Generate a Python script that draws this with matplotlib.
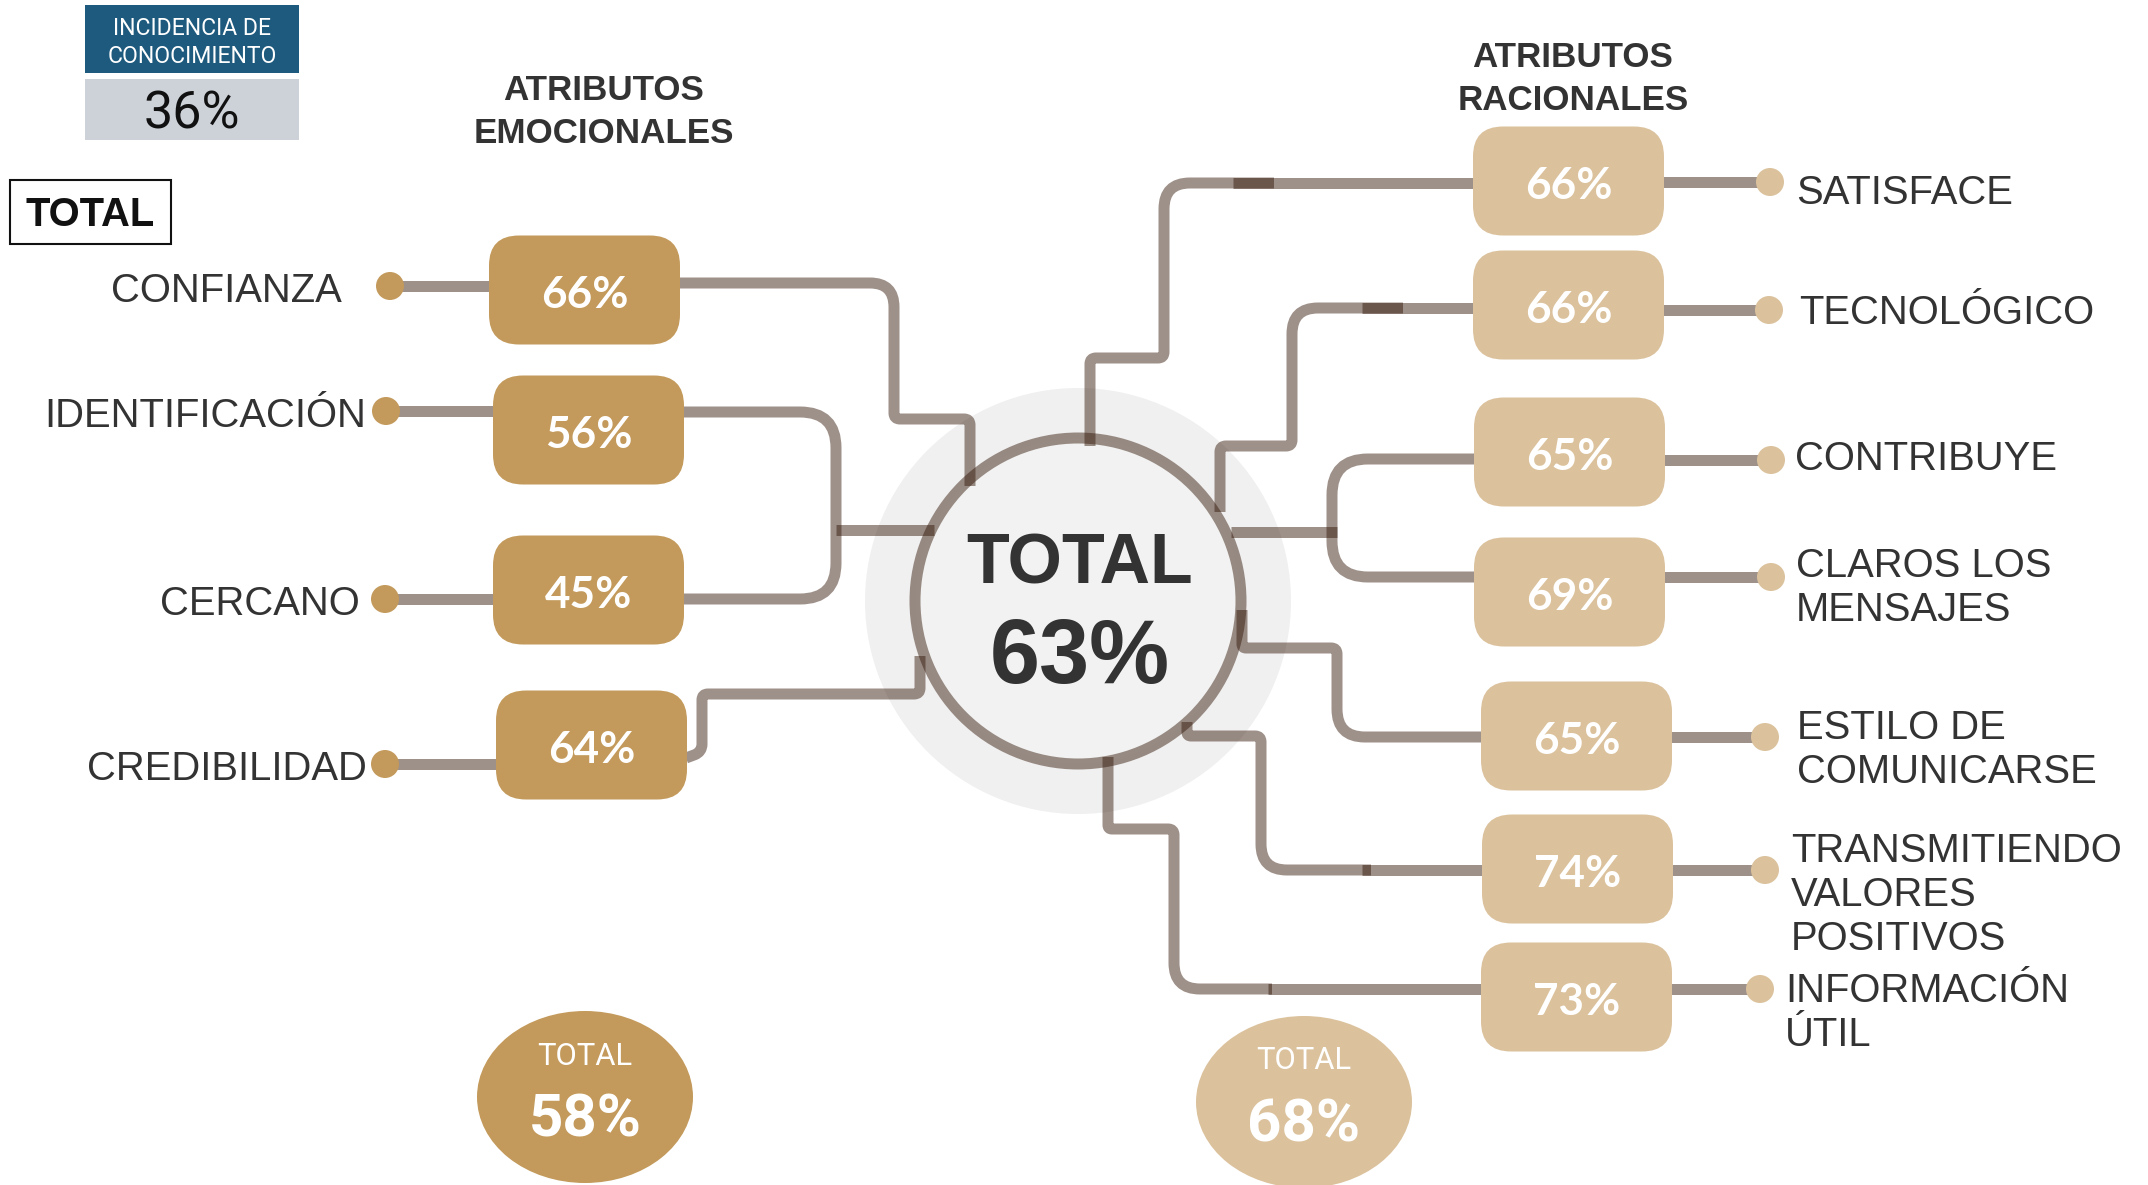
import matplotlib
matplotlib.use("Agg")
import matplotlib.pyplot as plt
from matplotlib.patches import FancyBboxPatch, Circle, Ellipse, Rectangle, PathPatch
from matplotlib.path import Path
import numpy as np

# data
EMO_LABELS = ["CONFIANZA", "IDENTIFICACIÓN", "CERCANO", "CREDIBILIDAD"]
EMO_VALUES = [66, 56, 45, 64]
RAC_LABELS = ["SATISFACE", "TECNOLÓGICO", "CONTRIBUYE", "CLAROS LOS\nMENSAJES",
              "ESTILO DE\nCOMUNICARSE", "TRANSMITIENDO\nVALORES\nPOSITIVOS",
              "INFORMACIÓN\nÚTIL"]
RAC_VALUES = [66, 66, 65, 69, 65, 74, 73]
TOTAL_VALUE = 63
EMO_TOTAL = 58
RAC_TOTAL = 68
INCIDENCIA = 36

# layout (pixel space, y grows downward)
W, H = 2148, 1185
BOX_W, BOX_H, BOX_R = 191, 109, 30
DOT_R = 14
EMO_BOX_X = [489, 493, 493, 496]
EMO_BOX_Y = [290, 430, 590, 745]
EMO_DOT_X = [390, 386, 385, 385]
EMO_DOT_Y = [286, 411, 599, 764]
EMO_LABEL_X = [342, 366, 360, 367]
RAC_BOX_X = [1473, 1473, 1474, 1474, 1481, 1482, 1481]
RAC_BOX_Y = [181, 305, 452, 592, 736, 869, 997]
RAC_DOT_X = [1770, 1769, 1771, 1771, 1765, 1765, 1760]
RAC_DOT_Y = [182, 310, 460, 577, 737, 870, 989]
RAC_LABEL_X = [1796, 1799, 1795, 1796, 1797, 1791, 1785]
RAC_LABEL_Y = [190, 310, 456, 585, 747, 892, 1010]
CENTER = (1078, 601)
RING_R = 163
HALO_R = 213

# connector routes: waypoints + corner radii
ROUTES = [
    ([(680, 283), (894, 283), (894, 419), (970, 419), (970, 486)], [24, 6, 6]),
    ([(684, 412), (836, 412), (836, 599), (684, 599)], [36, 36]),
    ([(836, 530), (934, 530)], []),
    ([(686, 758), (702, 752), (702, 694), (920, 694), (920, 656)], [8, 6, 6]),
    ([(1090, 446), (1090, 358), (1164, 358), (1164, 183), (1274, 183)], [6, 6, 26]),
    ([(1233, 183), (1473, 183)], []),
    ([(1220, 512), (1220, 446), (1292, 446), (1292, 308), (1403, 308)], [6, 6, 26]),
    ([(1362, 308), (1474, 308)], []),
    ([(1474, 459), (1332, 459), (1332, 577), (1474, 577)], [36, 36]),
    ([(1231, 532), (1337, 532)], []),
    ([(1242, 610), (1242, 648), (1337, 648), (1337, 737), (1481, 737)], [4, 6, 28]),
    ([(1187, 722), (1187, 736), (1261, 736), (1261, 870), (1371, 870)], [4, 6, 26]),
    ([(1362, 870), (1482, 870)], []),
    ([(1108, 757), (1108, 829), (1174, 829), (1174, 989), (1272, 989)], [4, 6, 26]),
    ([(1268, 989), (1481, 989)], []),
]

EMO_COLOR = "#C39A5B"
RAC_COLOR = "#DBC29D"
LINE_RGBA = (50 / 255, 21 / 255, 6 / 255, 0.47)
TEXT_COLOR = "#333333"
LINE_W = 11 * 0.72

SANS = ["Liberation Sans", "DejaVu Sans"]
NARROW = ["Roboto", "Liberation Sans", "DejaVu Sans"]
VALUE_FONT = ["Lato", "Open Sans", "DejaVu Sans"]


def pt(px):
    return px * 72 / 100


def cap_text(ax, x, yc, s, px, ha="center", color=TEXT_COLOR, weight="normal",
             family=SANS, cap=0.716):
    ax.text(x, yc + cap * px / 2, s, fontsize=pt(px), ha=ha, va="baseline",
            color=color, fontweight=weight, family=family, zorder=6)


def route_path(pts, radii):
    verts = [pts[0]]
    codes = [Path.MOVETO]
    for i in range(1, len(pts) - 1):
        p0, p1, p2 = (np.array(p, float) for p in pts[i - 1:i + 2])
        d1 = p1 - p0
        d2 = p2 - p1
        l1, l2 = np.hypot(*d1), np.hypot(*d2)
        r = min(radii[i - 1], l1 / 2, l2 / 2)
        a = p1 - d1 / l1 * r
        b = p1 + d2 / l2 * r
        verts += [tuple(a), tuple(p1), tuple(b)]
        codes += [Path.LINETO, Path.CURVE3, Path.CURVE3]
    verts.append(pts[-1])
    codes.append(Path.LINETO)
    return Path(verts, codes)


def draw_line(ax, pts, radii=()):
    ax.add_patch(PathPatch(route_path(pts, list(radii)), facecolor="none",
                           edgecolor=LINE_RGBA, lw=LINE_W, capstyle="butt",
                           joinstyle="round", zorder=3))


def draw_box(ax, x, yc, color, value):
    ax.add_patch(FancyBboxPatch((x, yc - BOX_H / 2), BOX_W, BOX_H,
                                boxstyle=f"round,pad=0,rounding_size={BOX_R}",
                                facecolor=color, edgecolor="none", zorder=4))
    cap_text(ax, x + BOX_W / 2, yc + 2, f"{value}%", 44, color="white",
             weight="bold", family=VALUE_FONT, cap=0.72)


fig = plt.figure(figsize=(W / 100, H / 100), dpi=100)
ax = fig.add_axes([0, 0, 1, 1])
ax.set_xlim(0, W)
ax.set_ylim(H, 0)
ax.axis("off")

# central total
ax.add_patch(Circle(CENTER, HALO_R, facecolor="#F0F0F0", edgecolor="none", zorder=1))
ax.add_patch(Circle(CENTER, RING_R, facecolor="#F1F2F1", edgecolor="none", zorder=2))
ax.add_patch(Circle(CENTER, RING_R, facecolor="none", edgecolor=LINE_RGBA,
                    lw=LINE_W, zorder=3))
cap_text(ax, CENTER[0] + 2, 558, "TOTAL", 70, weight="bold")
cap_text(ax, CENTER[0] + 2, 651, f"{TOTAL_VALUE}%", 90, weight="bold")

for pts, radii in ROUTES:
    draw_line(ax, pts, radii)

# emotional attributes
for lab, val, bx, by, dx, dy, lx in zip(EMO_LABELS, EMO_VALUES, EMO_BOX_X, EMO_BOX_Y,
                                        EMO_DOT_X, EMO_DOT_Y, EMO_LABEL_X):
    draw_line(ax, [(dx, dy), (bx + 5, dy)])
    ax.add_patch(Circle((dx, dy), DOT_R, facecolor=EMO_COLOR, edgecolor="none", zorder=5))
    draw_box(ax, bx, by, EMO_COLOR, val)
    cap_text(ax, lx, dy + 2, lab, 40, ha="right")

# rational attributes
for lab, val, bx, by, dx, dy, lx, ly in zip(RAC_LABELS, RAC_VALUES, RAC_BOX_X, RAC_BOX_Y,
                                            RAC_DOT_X, RAC_DOT_Y, RAC_LABEL_X, RAC_LABEL_Y):
    draw_line(ax, [(bx + BOX_W - 5, dy), (dx, dy)])
    ax.add_patch(Circle((dx, dy), DOT_R, facecolor=RAC_COLOR, edgecolor="none", zorder=5))
    draw_box(ax, bx, by, RAC_COLOR, val)
    lines = lab.split("\n")
    for k, line in enumerate(lines):
        cap_text(ax, lx, ly + (k - (len(lines) - 1) / 2) * 44, line, 40, ha="left")

# headings
cap_text(ax, 604, 87, "ATRIBUTOS", 35, weight="bold")
cap_text(ax, 604, 130, "EMOCIONALES", 35, weight="bold")
cap_text(ax, 1573, 54, "ATRIBUTOS", 35, weight="bold")
cap_text(ax, 1573, 97, "RACIONALES", 35, weight="bold")

# incidencia box
ax.add_patch(Rectangle((85, 5), 214, 68, facecolor="#1D5A7E", edgecolor="none", zorder=2))
ax.add_patch(Rectangle((85, 79), 214, 61, facecolor="#CDD2D9", edgecolor="none", zorder=2))
cap_text(ax, 192, 27, "INCIDENCIA DE", 23, color="white", family=NARROW, cap=0.711)
cap_text(ax, 192, 55, "CONOCIMIENTO", 23, color="white", family=NARROW, cap=0.711)
cap_text(ax, 192, 110, f"{INCIDENCIA}%", 52, color="#111111", family=NARROW, cap=0.711)

# total tag
ax.add_patch(Rectangle((10, 180), 161, 64, facecolor="white", edgecolor="#111111",
                       lw=1.5, zorder=2))
cap_text(ax, 90, 212, "TOTAL", 40, color="#111111", weight="bold")

# group totals
for cx, cy, color, val, ty, vy in [(585, 1097, EMO_COLOR, EMO_TOTAL, 1054, 1115),
                                   (1304, 1102, RAC_COLOR, RAC_TOTAL, 1058, 1120)]:
    ax.add_patch(Ellipse((cx, cy), 216, 172, facecolor=color, edgecolor="none", zorder=2))
    cap_text(ax, cx, ty, "TOTAL", 31, color="white", family=NARROW, cap=0.711)
    cap_text(ax, cx, vy, f"{val}%", 60, color="white", weight="bold", family=NARROW,
             cap=0.711)

fig.savefig("out.png", dpi=100)
